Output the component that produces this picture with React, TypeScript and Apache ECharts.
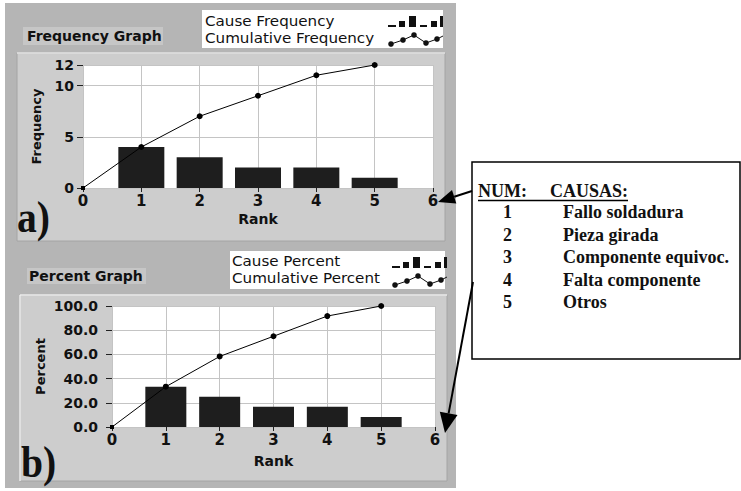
import React, { useEffect, useRef } from "react";
import * as echarts from "echarts";

// ---- data ----
const ranks = [1, 2, 3, 4, 5];
const causeFrequency = [4, 3, 2, 2, 1];
const cumRanks = [0, 1, 2, 3, 4, 5];
const cumulativeFrequency = [0, 4, 7, 9, 11, 12];
const causePercent = [33.3, 25.0, 16.7, 16.7, 8.3];
const cumulativePercent = [0, 33.3, 58.3, 75.0, 91.7, 100.0];
const causeNums = ["1", "2", "3", "4", "5"];
const causeNames = ["Fallo soldadura", "Pieza girada", "Componente equivoc.", "Falta componente", "Otros"];

const SANS = '"DejaVu Sans", sans-serif';
const SERIF = '"Liberation Serif", "Times New Roman", serif';

function arrow(tail: number[], tip: number[], len: number, half: number) {
  const dx = tip[0] - tail[0];
  const dy = tip[1] - tail[1];
  const L = Math.sqrt(dx * dx + dy * dy);
  const ux = dx / L, uy = dy / L;
  const bx = tip[0] - ux * len, by = tip[1] - uy * len;
  const nx = -uy * half, ny = ux * half;
  return [
    { type: "line", z: 20, shape: { x1: tail[0], y1: tail[1], x2: bx, y2: by }, style: { stroke: "#000", lineWidth: 2 } },
    { type: "polygon", z: 20, shape: { points: [[tip[0], tip[1]], [bx + nx, by + ny], [bx - nx, by - ny]] }, style: { fill: "#000" } },
  ];
}

function legendIcon(dx: number, dy: number) {
  const bars = [
    [388, 25, 8, 2], [399, 21, 6, 6], [409, 16, 7, 11], [420, 25, 7, 2], [431, 21, 6, 6], [440, 16, 3, 11],
  ];
  const pts = [[391, 44], [403, 40], [414, 35], [426, 43], [437, 39], [443, 36]];
  const els: any[] = bars.map((b) => ({
    type: "rect", z: 5, shape: { x: b[0] + dx, y: b[1] + dy, width: b[2], height: b[3] }, style: { fill: "#111" },
  }));
  els.push({ type: "polyline", z: 5, shape: { points: pts.map((p) => [p[0] + dx, p[1] + dy]) }, style: { stroke: "#111", lineWidth: 1, fill: null } });
  pts.slice(0, 5).forEach((p) => els.push({ type: "circle", z: 6, shape: { cx: p[0] + dx, cy: p[1] + dy, r: 2.8 }, style: { fill: "#111" } }));
  return els;
}

function txt(text: string, x: number, y: number, size: number, weight: string, family: string, extra: any = {}) {
  return {
    type: "text", z: 21, x, y, ...extra,
    style: {
      text, x: 0, y: 0, fontSize: size, fontWeight: weight, fontFamily: family, fill: "#111",
      verticalAlign: "middle", align: "left", lineHeight: Math.round(size * 1.0),
    },
  };
}

export default function App() {
  const ref = useRef<HTMLDivElement>(null);
  useEffect(() => {
    if (!ref.current) return;
    const chart = echarts.init(ref.current, null, { renderer: "svg" });

    const axisLabelStyle = { fontFamily: SANS, fontWeight: "bold" as const, color: "#111" };
    const splitLine = { show: true, lineStyle: { color: "#c4c4c4", width: 1 } };

    const mkLine = (xs: number[], ys: number[]) =>
      xs.map((x, i) => (i === 0 ? { value: [x, ys[i]], symbol: "rect", symbolSize: 4 } : { value: [x, ys[i]] }));

    const graphics: any[] = [
      { type: "rect", z: -10, shape: { x: 5, y: 3, width: 451, height: 485 }, style: { fill: "#b5b5b5" } },
      { type: "rect", z: -9, shape: { x: 17, y: 53, width: 428, height: 188 }, style: { fill: "#cdcdcd", stroke: "#a4a4a4", lineWidth: 1 } },
      { type: "line", z: -8, shape: { x1: 17, y1: 53, x2: 445, y2: 53 }, style: { stroke: "#e6e6e6", lineWidth: 1.5 } },
      { type: "rect", z: -9, shape: { x: 20, y: 295, width: 427, height: 186 }, style: { fill: "#cdcdcd", stroke: "#a4a4a4", lineWidth: 1 } },
      { type: "line", z: -8, shape: { x1: 20, y1: 295, x2: 447, y2: 295 }, style: { stroke: "#eeeeee", lineWidth: 1.5 } },
      { type: "line", z: -8, shape: { x1: 20, y1: 295, x2: 20, y2: 481 }, style: { stroke: "#eeeeee", lineWidth: 1.5 } },
      // title boxes
      { type: "rect", z: 1, shape: { x: 23, y: 27, width: 140, height: 18 }, style: { fill: "#c6c6c6" } },
      txt("Frequency Graph", 27, 36, 14, "bold", SANS),
      { type: "rect", z: 1, shape: { x: 27, y: 268, width: 119, height: 16 }, style: { fill: "#c6c6c6" } },
      txt("Percent Graph", 29, 276, 14, "bold", SANS),
      // legend boxes
      { type: "rect", z: 1, shape: { x: 202, y: 10, width: 241, height: 38 }, style: { fill: "#fff" } },
      txt("Cause Frequency", 205, 20.5, 14, "normal", SANS, { scaleX: 1.08 }),
      txt("Cumulative Frequency", 205, 38, 14, "normal", SANS, { scaleX: 1.08 }),
      ...legendIcon(0, 0),
      { type: "rect", z: 1, shape: { x: 230, y: 251, width: 215, height: 38 }, style: { fill: "#fff" } },
      txt("Cause Percent", 232, 260.5, 14, "normal", SANS, { scaleX: 1.08 }),
      txt("Cumulative Percent", 232, 278, 14, "normal", SANS, { scaleX: 1.08 }),
      ...legendIcon(4, 241),
      // a) b)
      txt("a)", 17, 217, 44, "bold", SERIF, { scaleX: 0.9 }),
      txt("b)", 21, 462, 44, "bold", SERIF, { scaleX: 0.9 }),
      // table
      { type: "rect", z: 19, shape: { x: 472, y: 162, width: 268, height: 197 }, style: { fill: "#fff", stroke: "#000", lineWidth: 1.5 } },
      txt("NUM:", 478, 191, 18, "bold", SERIF),
      txt("CAUSAS:", 550, 191, 18, "bold", SERIF),
      { type: "line", z: 21, shape: { x1: 478, y1: 200.5, x2: 628, y2: 200.5 }, style: { stroke: "#000", lineWidth: 1.5 } },
      ...causeNums.map((n, i) => txt(n, 503, 212 + i * 22.6, 18, "bold", SERIF)),
      ...causeNames.map((n, i) => txt(n, 563, 212 + i * 22.6, 18, "bold", SERIF)),
      ...arrow([472, 191], [438, 202], 17, 7),
      ...arrow([473, 282], [445, 433], 20, 9),
    ];

    const xAxisBase = (gridIndex: number) => ({
      gridIndex,
      type: "value" as const,
      min: 0,
      max: 6,
      interval: 1,
      name: "Rank",
      nameLocation: "middle" as const,
      nameGap: 24,
      nameTextStyle: { fontFamily: SANS, fontWeight: "bold" as const, fontSize: 14, color: "#111" },
      axisLine: { show: false },
      axisTick: { show: true, length: 4, lineStyle: { color: "#222" } },
      axisLabel: { ...axisLabelStyle, fontSize: 15, margin: 5 },
      splitLine,
    });

    chart.setOption({
      animation: false,
      backgroundColor: "#ffffff",
      graphic: { elements: graphics },
      grid: [
        { left: 83, top: 65, width: 350, height: 123, show: true, backgroundColor: "#ffffff", borderWidth: 0 },
        { left: 112, top: 306, width: 323, height: 121, show: true, backgroundColor: "#ffffff", borderWidth: 0 },
      ],
      xAxis: [xAxisBase(0), { ...xAxisBase(1), nameGap: 27 }],
      yAxis: [
        {
          gridIndex: 0, type: "value", min: 0, max: 12, interval: 5,
          name: "Frequency", nameLocation: "middle", nameGap: 40,
          nameTextStyle: { fontFamily: SANS, fontWeight: "bold", fontSize: 13, color: "#111" },
          axisLine: { show: false },
          axisTick: { show: true, length: 6, lineStyle: { color: "#222" } },
          axisLabel: { ...axisLabelStyle, fontSize: 14, margin: 9 },
          splitLine,
        },
        {
          gridIndex: 1, type: "value", min: 0, max: 100, interval: 20,
          name: "Percent", nameLocation: "middle", nameGap: 65,
          nameTextStyle: { fontFamily: SANS, fontWeight: "bold", fontSize: 13, color: "#111" },
          axisLine: { show: false },
          axisTick: { show: true, length: 6, lineStyle: { color: "#222" } },
          axisLabel: { ...axisLabelStyle, fontSize: 14, margin: 14, formatter: (v: number) => v.toFixed(1) },
          splitLine,
        },
      ],
      series: [
        {
          type: "bar", xAxisIndex: 0, yAxisIndex: 0, barWidth: 46,
          data: ranks.map((r, i) => [r, causeFrequency[i]]),
          itemStyle: { color: "#1e1e1e" }, z: 2,
        },
        {
          type: "line", xAxisIndex: 0, yAxisIndex: 0, symbol: "circle", symbolSize: 6,
          data: mkLine(cumRanks, cumulativeFrequency),
          itemStyle: { color: "#000" }, lineStyle: { color: "#000", width: 1 }, z: 3,
        },
        {
          type: "bar", xAxisIndex: 1, yAxisIndex: 1, barWidth: 41,
          data: ranks.map((r, i) => [r, causePercent[i]]),
          itemStyle: { color: "#1e1e1e" }, z: 2,
        },
        {
          type: "line", xAxisIndex: 1, yAxisIndex: 1, symbol: "circle", symbolSize: 6,
          data: mkLine(cumRanks, cumulativePercent),
          itemStyle: { color: "#000" }, lineStyle: { color: "#000", width: 1 }, z: 3,
        },
      ],
    });
    return () => chart.dispose();
  }, []);

  return (
    <div
      ref={ref}
      style={{ position: "absolute", left: 0, top: 0, width: 741, height: 491, background: "#fff" }}
    />
  );
}
